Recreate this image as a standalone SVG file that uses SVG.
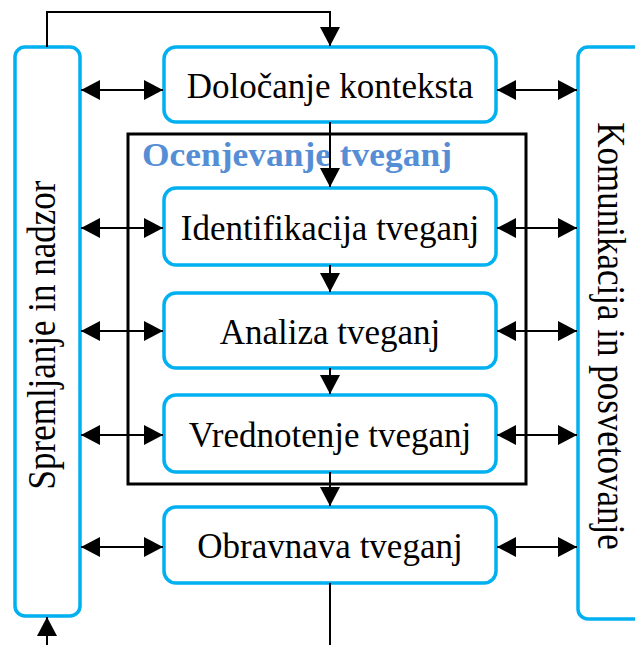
<svg xmlns="http://www.w3.org/2000/svg" width="635" height="645" viewBox="0 0 635 645">
  <style>
    .box { fill: #ffffff; stroke: #00b0f0; stroke-width: 3.5; }
    .frame { fill: none; stroke: #000000; stroke-width: 3; }
    .wire { fill: none; stroke: #000000; stroke-width: 2; }
    .lbl { font-family: "Liberation Serif", "Times New Roman", serif; font-size: 35px; fill: #000000; text-anchor: middle; }
    .title { font-family: "Liberation Serif", "Times New Roman", serif; font-size: 34px; font-weight: bold; fill: #558ed5; }
  </style>
  <defs>
    <marker id="head" markerUnits="userSpaceOnUse" markerWidth="19" markerHeight="20" refX="19" refY="10" orient="auto-start-reverse">
      <path d="M0,0 L19,10 L0,20 Z" fill="#000000"/>
    </marker>
  </defs>

  <rect id="white-bg" x="0" y="0" width="635" height="645" fill="#ffffff"/>

  <!-- risk assessment frame -->
  <g id="assessment">
    <rect class="frame" x="128" y="134" width="398" height="350"/>
    <text class="title" x="142" y="166" textLength="310" lengthAdjust="spacingAndGlyphs">Ocenjevanje  tveganj</text>
  </g>

  <!-- side bars -->
  <g id="monitoring">
    <rect class="box" x="15" y="47" width="65" height="569" rx="10"/>
    <text class="lbl" transform="translate(55,335) rotate(-90) scale(1,1.12)">Spremljanje in nadzor</text>
  </g>
  <g id="communication">
    <rect class="box" x="578" y="47" width="75" height="572" rx="10"/>
    <text class="lbl" transform="translate(598,336) rotate(90) scale(1,1.12)">Komunikacija in posvetovanje</text>
  </g>

  <!-- process steps -->
  <g id="context">
    <rect class="box" x="164" y="47" width="332" height="75" rx="12"/>
    <text class="lbl" x="330" y="98">Določanje konteksta</text>
  </g>
  <g id="identification">
    <rect class="box" x="164" y="188" width="332" height="77" rx="12"/>
    <text class="lbl" x="330" y="240">Identifikacija tveganj</text>
  </g>
  <g id="analysis">
    <rect class="box" x="164" y="293" width="332" height="75" rx="12"/>
    <text class="lbl" x="330" y="344">Analiza tveganj</text>
  </g>
  <g id="evaluation">
    <rect class="box" x="164" y="395" width="332" height="77" rx="12"/>
    <text class="lbl" x="330" y="447">Vrednotenje tveganj</text>
  </g>
  <g id="treatment">
    <rect class="box" x="164" y="507" width="332" height="76" rx="12"/>
    <text class="lbl" x="330" y="558">Obravnava tveganj</text>
  </g>

  <!-- connectors -->
  <g id="connectors">
    <path class="wire" d="M47,47 V12 H330 V46" marker-end="url(#head)"/>
    <path class="wire" d="M330,122 V187" marker-end="url(#head)"/>
    <path class="wire" d="M330,265 V292" marker-end="url(#head)"/>
    <path class="wire" d="M330,368 V394" marker-end="url(#head)"/>
    <path class="wire" d="M330,472 V506" marker-end="url(#head)"/>
    <path class="wire" d="M330,583 V645"/>
    <path class="wire" d="M47,645 V617" marker-end="url(#head)"/>

    <path class="wire" d="M81,90 H163" marker-start="url(#head)" marker-end="url(#head)"/>
    <path class="wire" d="M81,228 H163" marker-start="url(#head)" marker-end="url(#head)"/>
    <path class="wire" d="M81,331 H163" marker-start="url(#head)" marker-end="url(#head)"/>
    <path class="wire" d="M81,435 H163" marker-start="url(#head)" marker-end="url(#head)"/>
    <path class="wire" d="M81,547 H163" marker-start="url(#head)" marker-end="url(#head)"/>

    <path class="wire" d="M497,90 H577" marker-start="url(#head)" marker-end="url(#head)"/>
    <path class="wire" d="M497,228 H577" marker-start="url(#head)" marker-end="url(#head)"/>
    <path class="wire" d="M497,331 H577" marker-start="url(#head)" marker-end="url(#head)"/>
    <path class="wire" d="M497,435 H577" marker-start="url(#head)" marker-end="url(#head)"/>
    <path class="wire" d="M497,547 H577" marker-start="url(#head)" marker-end="url(#head)"/>
  </g>
</svg>
